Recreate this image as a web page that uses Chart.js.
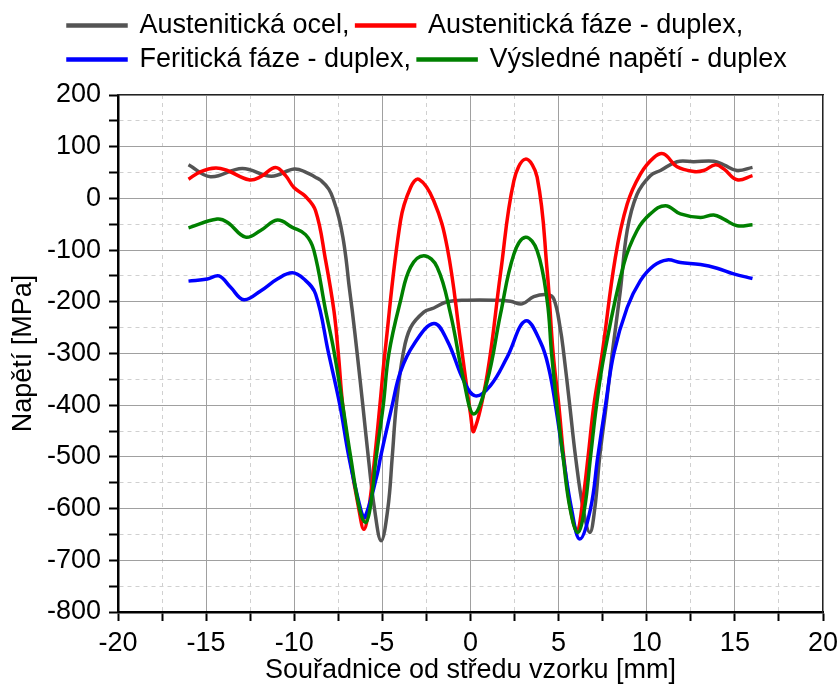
<!DOCTYPE html>
<html>
<head>
<meta charset="utf-8">
<script src="https://cdn.jsdelivr.net/npm/chart.js@4.4.1/dist/chart.umd.min.js"></script>
<style>
    body { margin: 0; background: #fff; }
    canvas { display: block; }
</style>
</head>
<body>
<canvas id="napetiChart" width="839" height="684"></canvas>
<script>
// Series names
const seriesNames = ['Austenitická ocel,', 'Austenitická fáze - duplex,', 'Feritická fáze - duplex,', 'Výsledné napětí - duplex'];

// Austenitická ocel
const xOcel = [-16, -14.75, -12.95, -11.3, -10, -9.3, -8.8, -8.5, -8.04, -7.75, -7.47, -7.24, -7.05, -6.9, -6.71, -6.43, -6.11, -5.8, -5.45, -5.07, -4.69, -4.44, -4.21, -3.82, -3.4, -2.65, -2.08, -1.32, -0.19, 1.32, 2.27, 2.93, 3.59, 4.35, 4.73, 5.1, 5.29, 5.63, 5.96, 6.39, 6.77, 7.05, 7.33, 7.7, 8.04, 8.5, 8.89, 9.45, 10.2, 10.78, 11.72, 12.67, 13.8, 14.37, 15.13, 16];
const yOcel = [65, 42, 58, 43, 57, 50, 41, 35, 18, -5, -37, -75, -120, -166, -217, -300, -400, -500, -600, -662, -600, -500, -400, -300, -250, -220, -212, -200, -197, -197, -199, -204, -190, -186, -195, -253, -300, -400, -500, -600, -646, -600, -500, -400, -300, -179, -62, 8, 44, 54, 71, 71, 72, 65, 54, 60];

// Austenitická fáze - duplex
const xAustFaze = [-16, -15.3, -14.46, -13.8, -12.57, -11.9, -11.06, -10.49, -10.02, -9.4, -8.79, -8.22, -7.75, -7.5, -7.25, -6.85, -6.34, -6.05, -5.77, -5.43, -5.14, -4.86, -3.97, -3.4, -2.93, -2.08, -1.32, -0.57, 0, 0.19, 0.95, 1.7, 2.46, 3.12, 3.78, 4.35, 4.69, 5.01, 5.29, 5.67, 6.05, 6.35, 6.67, 7.0, 7.47, 8.22, 8.89, 9.64, 10.4, 10.96, 11.72, 12.67, 13.23, 13.9, 14.37, 15.13, 16];
const yAustFaze = [37, 52, 59, 54, 36, 42, 60, 44, 21, 5, -24, -120, -217, -300, -400, -500, -600, -640, -600, -500, -400, -300, -43, 21, 37, -5, -95, -275, -417, -450, -340, -146, 34, 76, 41, -140, -300, -400, -500, -600, -643, -590, -500, -400, -300, -114, -11, 47, 79, 86, 61, 52, 54, 65, 57, 36, 44];

// Feritická fáze - duplex
const xFerit = [-16, -14.93, -14.27, -13.61, -12.86, -11.91, -10.96, -10.11, -9.45, -8.79, -8.05, -7.41, -6.9, -6.24, -6.0, -5.29, -5.1, -4.44, -3.97, -3.21, -2.08, -1.32, -0.38, 0.28, 1.13, 2.08, 3.12, 3.97, 4.45, 4.82, 5.26, 5.73, 6.2, 6.81, 7.22, 7.66, 8.13, 8.89, 9.64, 10.4, 11.16, 11.91, 13.05, 13.99, 14.93, 16];
const yFerit = [-160, -156, -150, -172, -196, -179, -156, -144, -156, -185, -300, -400, -500, -600, -617, -533, -500, -400, -335, -282, -242, -275, -353, -382, -362, -307, -237, -278, -330, -400, -500, -600, -659, -600, -500, -400, -300, -211, -159, -130, -119, -124, -128, -135, -146, -155];

// Výsledné napětí - duplex
const xVysl = [-16, -14.37, -13.8, -12.76, -11.91, -10.96, -10.11, -9.36, -8.89, -8.22, -7.75, -7.25, -6.8, -6.3, -5.96, -5.7, -5.35, -4.95, -4.63, -3.97, -3.4, -2.65, -1.89, -1.13, -0.38, 0.19, 0.95, 1.7, 2.46, 3.12, 3.78, 4.35, 4.6, 4.9, 5.25, 5.65, 6.09, 6.47, 6.81, 7.15, 7.6, 8.7, 9.45, 10.2, 11.06, 11.91, 13.05, 13.8, 14.37, 15.13, 16];
const yVysl = [-57, -40, -46, -75, -62, -42, -56, -70, -100, -217, -295, -400, -500, -600, -627, -600, -500, -400, -300, -198, -133, -111, -133, -224, -353, -417, -353, -224, -108, -75, -101, -198, -300, -400, -500, -600, -646, -600, -500, -400, -300, -127, -62, -30, -14, -30, -37, -32, -40, -53, -51];

// Axis ranges
const xRange = [-20, 20];
const yRange = [-800, 200];

function toPoints(xs, ys) {
    return xs.map((x, i) => ({ x: x, y: ys[i] }));
}

Chart.defaults.font.family = "'Liberation Sans', Arial, sans-serif";
Chart.defaults.font.size = 27;
Chart.defaults.color = '#000';

// minor grid lines are dashed and lighter
const isMinorX = c => c.tick && c.tick.value % 5 !== 0;
const isMinorY = c => c.tick && c.tick.value % 100 !== 0;

// move legend rows to the left like in the original
const legendShift = {
    id: 'legendShift',
    afterLayout(chart) {
        chart.legend.left = 61;
    }
};

const ctx = document.getElementById('napetiChart').getContext('2d');
new Chart(ctx, {
    type: 'line',
    data: {
        datasets: [{
            label: seriesNames[0],
            data: toPoints(xOcel, yOcel),
            borderColor: '#545454',
            backgroundColor: '#545454',
            order: 4
        }, {
            label: seriesNames[1],
            data: toPoints(xAustFaze, yAustFaze),
            borderColor: '#ff0000',
            backgroundColor: '#ff0000',
            order: 3
        }, {
            label: seriesNames[2],
            data: toPoints(xFerit, yFerit),
            borderColor: '#0000ff',
            backgroundColor: '#0000ff',
            order: 2
        }, {
            label: seriesNames[3],
            data: toPoints(xVysl, yVysl),
            borderColor: '#008000',
            backgroundColor: '#008000',
            order: 1
        }]
    },
    options: {
        responsive: false,
        animation: false,
        elements: {
            line: { borderWidth: 3.5, tension: 0.4 },
            point: { radius: 0 }
        },
        layout: {
            padding: { top: 5, right: 16, bottom: 0, left: 0 }
        },
        plugins: {
            tooltip: { enabled: false },
            legend: {
                position: 'top',
                align: 'start',
                labels: {
                    boxWidth: 58,
                    boxHeight: 1,
                    padding: 7,
                    font: { size: 27 },
                    color: '#000',
                    sort: (a, b) => a.datasetIndex - b.datasetIndex
                }
            }
        },
        scales: {
            x: {
                type: 'linear',
                position: 'bottom',
                min: xRange[0],
                max: xRange[1],
                afterFit: function(scale) {
                    scale.height = 72;
                    scale.paddingLeft = 0;
                    scale.paddingRight = 0;
                },
                ticks: {
                    stepSize: 2.5,
                    autoSkip: false,
                    maxRotation: 0,
                    padding: 6,
                    callback: v => (v % 5 === 0 ? v : '')
                },
                grid: {
                    color: c => (isMinorX(c) ? '#d0d0d0' : '#a0a0a0'),
                    lineWidth: 1,
                    tickColor: '#000',
                    tickWidth: 2,
                    tickLength: 9
                },
                border: {
                    color: '#000',
                    width: 2.5,
                    dash: c => (isMinorX(c) ? [4, 4] : [])
                },
                title: {
                    display: true,
                    text: 'Souřadnice od středu vzorku [mm]',
                    font: { size: 27, lineHeight: 1 },
                    padding: { top: 0, bottom: 0 }
                }
            },
            y: {
                type: 'linear',
                position: 'left',
                min: yRange[0],
                max: yRange[1],
                afterFit: function(scale) { scale.width = 118; },
                ticks: {
                    stepSize: 50,
                    autoSkip: false,
                    padding: 8,
                    callback: v => (v % 100 === 0 ? v : '')
                },
                grid: {
                    color: c => (isMinorY(c) ? '#d0d0d0' : '#a0a0a0'),
                    lineWidth: 1,
                    tickColor: '#000',
                    tickWidth: 2,
                    tickLength: 9
                },
                border: {
                    color: '#000',
                    width: 2.5,
                    dash: c => (isMinorY(c) ? [4, 4] : [])
                },
                title: {
                    display: true,
                    text: 'Napětí [MPa]',
                    font: { size: 27 },
                    padding: { top: 7, bottom: 0 }
                }
            },
            // top and right frame lines
            x2: {
                type: 'linear',
                position: 'top',
                min: xRange[0],
                max: xRange[1],
                afterFit: function(scale) { scale.height = 12; },
                ticks: { display: false },
                grid: { drawOnChartArea: false, drawTicks: false },
                border: { color: '#222', width: 1.2 }
            },
            y2: {
                type: 'linear',
                position: 'right',
                min: yRange[0],
                max: yRange[1],
                afterFit: function(scale) { scale.width = 0; },
                ticks: { display: false },
                grid: { drawOnChartArea: false, drawTicks: false },
                border: { color: '#222', width: 1.2 }
            }
        }
    },
    plugins: [legendShift]
});
</script>
</body>
</html>
